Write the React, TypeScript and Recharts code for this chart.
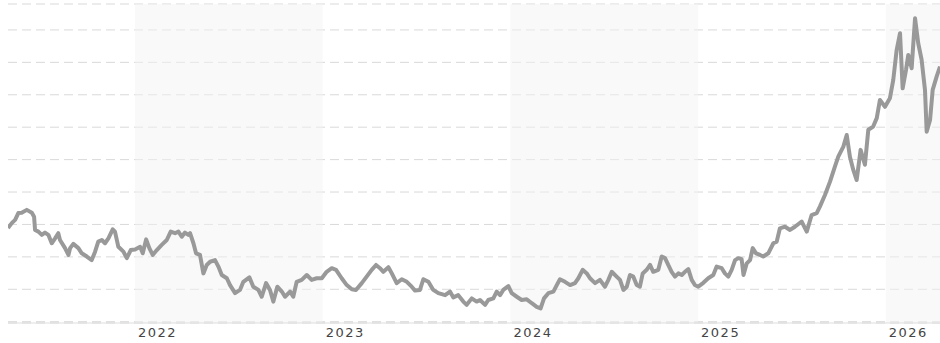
import { LineChart, Line, XAxis, YAxis, CartesianGrid, ReferenceArea } from 'recharts';

// time in decimal years
const dates = [
  2021.323, 2021.343, 2021.361, 2021.378, 2021.396, 2021.423, 2021.45, 2021.462, 2021.467, 2021.485,
  2021.503, 2021.52, 2021.538, 2021.556, 2021.574, 2021.591, 2021.6, 2021.627, 2021.645, 2021.654,
  2021.671, 2021.698, 2021.716, 2021.743, 2021.769, 2021.787, 2021.804, 2021.823, 2021.84, 2021.858,
  2021.881, 2021.893, 2021.911, 2021.938, 2021.956, 2021.977, 2022.0, 2022.027, 2022.041, 2022.059,
  2022.076, 2022.094, 2022.116, 2022.142, 2022.169, 2022.19, 2022.213, 2022.231, 2022.249, 2022.266,
  2022.284, 2022.293, 2022.311, 2022.325, 2022.346, 2022.364, 2022.382, 2022.4, 2022.426, 2022.444,
  2022.462, 2022.489, 2022.506, 2022.533, 2022.559, 2022.577, 2022.609, 2022.63, 2022.657, 2022.675,
  2022.698, 2022.719, 2022.737, 2022.758, 2022.782, 2022.799, 2022.826, 2022.843, 2022.861, 2022.888,
  2022.915, 2022.941, 2022.968, 2022.995, 2023.021, 2023.048, 2023.071, 2023.101, 2023.128, 2023.155,
  2023.177, 2023.208, 2023.234, 2023.261, 2023.284, 2023.305, 2023.323, 2023.35, 2023.368, 2023.394,
  2023.421, 2023.448, 2023.474, 2023.492, 2023.518, 2023.536, 2023.563, 2023.589, 2023.616, 2023.652,
  2023.678, 2023.696, 2023.722, 2023.749, 2023.767, 2023.794, 2023.82, 2023.838, 2023.865, 2023.882,
  2023.909, 2023.927, 2023.945, 2023.962, 2023.989, 2024.007, 2024.034, 2024.06, 2024.087, 2024.114,
  2024.14, 2024.161, 2024.179, 2024.202, 2024.229, 2024.247, 2024.264, 2024.291, 2024.318, 2024.344,
  2024.362, 2024.385, 2024.407, 2024.424, 2024.451, 2024.477, 2024.504, 2024.522, 2024.54, 2024.566,
  2024.584, 2024.602, 2024.62, 2024.637, 2024.655, 2024.673, 2024.69, 2024.705, 2024.726, 2024.744,
  2024.761, 2024.788, 2024.806, 2024.824, 2024.841, 2024.859, 2024.877, 2024.895, 2024.913, 2024.93,
  2024.948, 2024.966, 2024.983, 2025.001, 2025.028, 2025.054, 2025.081, 2025.099, 2025.126, 2025.143,
  2025.161, 2025.179, 2025.197, 2025.214, 2025.232, 2025.242, 2025.259, 2025.277, 2025.291, 2025.309,
  2025.33, 2025.347, 2025.374, 2025.401, 2025.419, 2025.436, 2025.463, 2025.49, 2025.516, 2025.552,
  2025.579, 2025.605, 2025.632, 2025.649, 2025.676, 2025.703, 2025.729, 2025.747, 2025.774, 2025.792,
  2025.809, 2025.827, 2025.845, 2025.866, 2025.889, 2025.907, 2025.933, 2025.952, 2025.969, 2025.996,
  2026.022, 2026.04, 2026.058, 2026.076, 2026.09, 2026.108, 2026.12, 2026.138, 2026.156, 2026.173,
  2026.191, 2026.209, 2026.218, 2026.236, 2026.25, 2026.271, 2026.289,
];

// values in grid units (one dashed line = 1)
const values = [
  2.89, 3.04, 3.14, 3.35, 3.36, 3.45, 3.36, 3.24, 2.83, 2.78,
  2.68, 2.75, 2.68, 2.42, 2.57, 2.73, 2.52, 2.27, 2.06, 2.27,
  2.4, 2.27, 2.11, 2.01, 1.9, 2.16, 2.47, 2.52, 2.42, 2.57,
  2.85, 2.78, 2.31, 2.16, 1.96, 2.21, 2.23, 2.31, 2.11, 2.54,
  2.27, 2.06, 2.21, 2.37, 2.52, 2.78, 2.73, 2.78, 2.62, 2.75,
  2.68, 2.73, 2.42, 2.11, 2.06, 1.49, 1.75, 1.85, 1.9, 1.7,
  1.44, 1.34, 1.13, 0.88, 0.98, 1.23, 1.37, 1.08, 0.98, 0.77,
  1.19, 0.98, 0.62, 1.08, 0.93, 0.77, 0.93, 0.77, 1.23, 1.29,
  1.44, 1.29, 1.34, 1.34, 1.54, 1.65, 1.6, 1.34, 1.13, 1.0,
  0.98, 1.19, 1.39, 1.6, 1.75, 1.65, 1.54, 1.68, 1.49, 1.19,
  1.31, 1.23, 1.08, 0.96, 0.98, 1.31, 1.23, 0.98, 0.88, 0.82,
  0.93, 0.75, 0.82, 0.62, 0.52, 0.72, 0.62, 0.67, 0.52, 0.67,
  0.72, 0.93, 0.82, 0.98, 1.1, 0.88, 0.77, 0.67, 0.69, 0.57,
  0.46, 0.41, 0.72, 0.88, 0.93, 1.13, 1.31, 1.23, 1.13, 1.19,
  1.34, 1.6, 1.49, 1.34, 1.19, 1.29, 1.08, 1.29, 1.54, 1.39,
  1.29, 0.98, 1.08, 1.44, 1.39, 1.13, 1.08, 1.49, 1.6, 1.75,
  1.54, 1.6, 2.01, 1.96, 1.75, 1.54, 1.39, 1.49, 1.44, 1.54,
  1.62, 1.29, 1.13, 1.08, 1.2, 1.34, 1.44, 1.7, 1.65, 1.49,
  1.39, 1.6, 1.9, 1.96, 1.93, 1.44, 1.8, 1.9, 2.27, 2.11,
  2.06, 2.01, 2.11, 2.42, 2.47, 2.88, 2.93, 2.83, 2.93, 3.09,
  2.78, 3.29, 3.35, 3.55, 3.91, 4.32, 4.78, 5.09, 5.4, 5.76,
  5.09, 4.68, 4.37, 5.3, 4.84, 5.92, 6.02, 6.28, 6.84, 6.63,
  6.89, 7.46, 8.38, 8.9, 7.2, 7.77, 8.23, 7.82, 9.36, 8.59,
  8.08, 7.15, 5.86, 6.22, 7.15, 7.56, 7.87,
];

const yearTicks = [2022, 2023, 2024, 2025, 2026];
const gridLevels = [0, 1, 2, 3, 4, 5, 6, 7, 8, 9];
const shadedYears = [
  [2022, 2023],
  [2024, 2025],
  [2026, 2026.289],
];

const data = dates.map((t, i) => ({ t, v: values[i] }));

function YearTick(props: any) {
  const { x, payload } = props;
  return (
    <text
      x={x + 3}
      y={337}
      textAnchor="start"
      fontFamily="DejaVu Sans, Verdana, sans-serif"
      fontSize={13}
      letterSpacing={1.5}
      fill="#444"
    >
      {payload.value}
    </text>
  );
}

export default function App() {
  return (
    <div style={{ position: 'absolute', left: 0, top: 0, width: 940, height: 343, overflow: 'hidden', background: '#fff' }}>
      <LineChart width={940} height={343} data={data} margin={{ top: 4, right: 0, bottom: 0, left: 8 }}>
        <CartesianGrid vertical={false} stroke="#d9d9d9" strokeDasharray="9 5" />
        {shadedYears.map(([a, b]) => (
          <ReferenceArea key={a} x1={a} x2={b} fill="#f3f3f3" fillOpacity={0.5} stroke="none" ifOverflow="hidden" />
        ))}
        <XAxis
          dataKey="t"
          type="number"
          domain={[dates[0], dates[dates.length - 1]]}
          ticks={yearTicks}
          tickLine={false}
          axisLine={{ stroke: '#ddd' }}
          tick={<YearTick />}
          height={20}
          allowDataOverflow
        />
        <YAxis hide domain={[-0.04, 9.8]} ticks={gridLevels} allowDataOverflow />
        <Line
          type="linear"
          dataKey="v"
          stroke="#999"
          strokeWidth={4}
          strokeLinejoin="round"
          dot={false}
          isAnimationActive={false}
        />
      </LineChart>
    </div>
  );
}
